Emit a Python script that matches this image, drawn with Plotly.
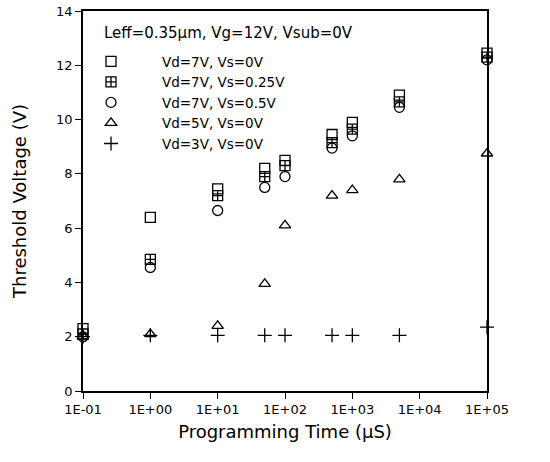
import plotly.graph_objects as go

times = [0.1, 1, 10, 50, 100, 500, 1000, 5000, 100000]
vt_vd7_vs0 = [2.3, 6.4, 7.45, 8.2, 8.5, 9.45, 9.9, 10.9, 12.45]
vt_vd7_vs025 = [2.1, 4.85, 7.2, 7.9, 8.3, 9.15, 9.65, 10.65, 12.3]
vt_vd7_vs05 = [2.0, 4.55, 6.65, 7.5, 7.9, 8.95, 9.4, 10.45, 12.2]
vt_vd5_vs0 = [2.0, 2.1, 2.4, 3.95, 6.1, 7.2, 7.4, 7.8, 8.75]
vt_vd3_vs0 = [2.0, 2.05, 2.05, 2.05, 2.05, 2.05, 2.05, 2.05, 2.35]

series_names = ["Vd=7V, Vs=0V", "Vd=7V, Vs=0.25V", "Vd=7V, Vs=0.5V",
                "Vd=5V, Vs=0V", "Vd=3V, Vs=0V"]
series_vals = [vt_vd7_vs0, vt_vd7_vs025, vt_vd7_vs05, vt_vd5_vs0, vt_vd3_vs0]
symbols = ["square-open", "square-cross-open", "circle-open",
           "triangle-up-open", "cross-thin-open"]

legend_title = "Leff=0.35\u03bcm, Vg=12V, Vsub=0V"
x_title = "Programming Time (\u03bcS)"
y_title = "Threshold Voltage (V)"
x_tickvals = [0.1, 1, 10, 100, 1000, 10000, 100000]
x_ticktext = ["1E-01", "1E+00", "1E+01", "1E+02", "1E+03", "1E+04", "1E+05"]
y_tickvals = [0, 2, 4, 6, 8, 10, 12, 14]

FONT = "DejaVu Sans"

fig = go.Figure()
for name, vals, sym in zip(series_names, series_vals, symbols):
    fig.add_trace(go.Scatter(
        x=times, y=vals, mode="markers", name=name,
        marker=dict(symbol=sym, size=10, color="black",
                    line=dict(color="black", width=1.3)),
        cliponaxis=False,
    ))

fig.add_annotation(
    text=legend_title, xref="paper", yref="paper",
    x=(102 - 83) / 404, y=(391 - 33) / 380, xanchor="left", yanchor="middle",
    showarrow=False, font=dict(size=15, family=FONT, color="black"),
)

fig.update_layout(
    width=550, height=462,
    margin=dict(l=83, r=63, t=11, b=71, autoexpand=False),
    paper_bgcolor="white", plot_bgcolor="white",
    font=dict(family=FONT, color="black", size=13),
    showlegend=True,
    legend=dict(
        x=(60 - 83) / 404, y=(391 - 46) / 380, xanchor="left", yanchor="top",
        bgcolor="rgba(0,0,0,0)",
        font=dict(size=13.5, family=FONT),
        itemwidth=92, tracegroupgap=0,
    ),
    xaxis=dict(
        type="log", range=[-1, 5], automargin=False,
        tickvals=x_tickvals, ticktext=x_ticktext,
        ticks="outside", ticklen=6, tickwidth=1.2, tickcolor="black",
        showline=True, linecolor="black", linewidth=1.5, mirror=True,
        showgrid=False, zeroline=False,
        tickfont=dict(size=13, family=FONT),
        title=dict(text=x_title, font=dict(size=18, family=FONT), standoff=9),
    ),
    yaxis=dict(
        range=[0, 14], tickvals=y_tickvals, automargin=False,
        ticks="outside", ticklen=6, tickwidth=1.2, tickcolor="black",
        showline=True, linecolor="black", linewidth=1.5, mirror=True,
        showgrid=False, zeroline=False,
        tickfont=dict(size=13, family=FONT),
        title=dict(text=y_title, font=dict(size=18, family=FONT), standoff=25),
    ),
)

fig.write_html("out.html",
               config={"displayModeBar": False},
               post_script="document.body.style.margin='0px';")
